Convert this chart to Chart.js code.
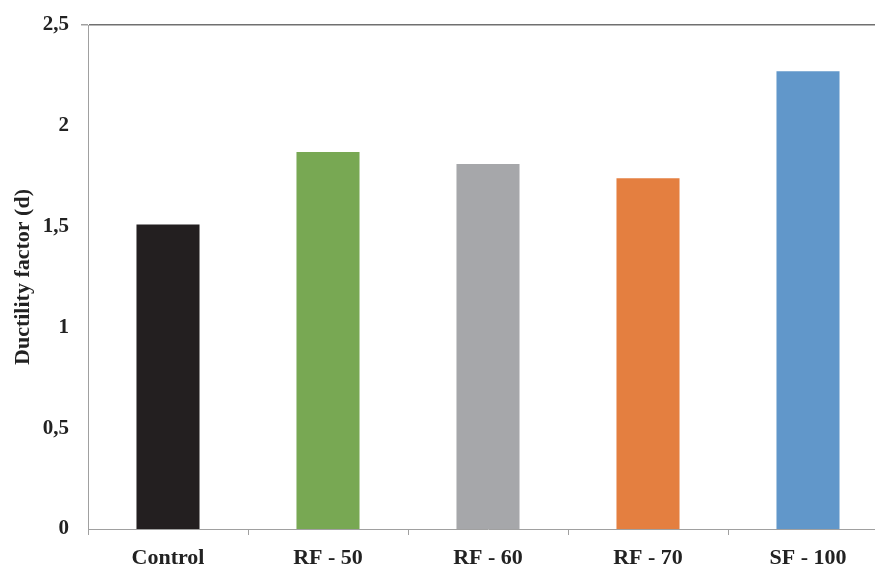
<!DOCTYPE html>
<html>
<head>
<meta charset="utf-8">
<script src="https://cdn.jsdelivr.net/npm/chart.js@4.4.0/dist/chart.umd.min.js"></script>
<style>
    html, body { margin: 0; padding: 0; background: #fff; overflow: hidden; }
    #wrap { width: 875px; height: 565px; overflow: hidden; position: relative; }
    #box { width: 888px; height: 565px; }
</style>
</head>
<body>
<div id="wrap"><div id="box"><canvas id="chart"></canvas></div></div>
<script>
/* ===== DATA ===== */
const categories = ['Control', 'RF - 50', 'RF - 60', 'RF - 70', 'SF - 100'];
const ductility = [1.51, 1.87, 1.81, 1.74, 2.27];
const barColors = ['#231f20', '#78a853', '#a6a7aa', '#e47f40', '#6197ca'];
const yTicks = [0, 0.5, 1, 1.5, 2, 2.5];

const serif = '"Liberation Serif", "DejaVu Serif", serif';

// format tick with comma decimal
function fmt(v) {
    return String(v).replace('.', ',');
}

/* ===== CHART ===== */
const ctx = document.getElementById('chart').getContext('2d');
new Chart(ctx, {
    type: 'bar',
    data: {
        labels: categories,
        datasets: [{
            data: ductility,
            backgroundColor: barColors,
            borderWidth: 0,
            barPercentage: 0.394,
            categoryPercentage: 1
        }]
    },
    options: {
        responsive: true,
        maintainAspectRatio: false,
        animation: false,
        layout: { padding: { top: 25, right: 0, left: 0, bottom: 0 } },
        plugins: {
            legend: { display: false },
            tooltip: { enabled: false }
        },
        scales: {
            x: {
                grid: {
                    offset: true,
                    drawOnChartArea: false,
                    tickLength: 6,
                    tickColor: '#a0a0a0'
                },
                border: { color: '#a0a0a0', width: 1 },
                ticks: {
                    color: '#222',
                    padding: 10,
                    font: { family: serif, size: 22, weight: 'bold' }
                },
                afterFit: s => { s.height = 36; }
            },
            y: {
                min: 0,
                max: 2.5,
                afterBuildTicks: s => { s.ticks = yTicks.map(v => ({ value: v })); },
                grid: {
                    color: c => (c.tick && c.tick.value === 2.5) ? '#707070' : 'rgba(0,0,0,0)',
                    lineWidth: c => (c.tick && c.tick.value === 2.5) ? 1.5 : 0,
                    tickColor: '#a0a0a0',
                    tickLength: 7
                },
                border: { color: '#a0a0a0', width: 1 },
                ticks: {
                    color: '#222',
                    padding: 12,
                    callback: v => fmt(v),
                    font: { family: serif, size: 21, weight: 'bold' }
                },
                title: {
                    display: true,
                    text: 'Ductility factor (d)',
                    color: '#222',
                    padding: { top: 10, bottom: 4 },
                    font: { family: serif, size: 22, weight: 'bold' }
                },
                afterFit: s => { s.width = 88; }
            }
        }
    }
});
</script>
</body>
</html>
